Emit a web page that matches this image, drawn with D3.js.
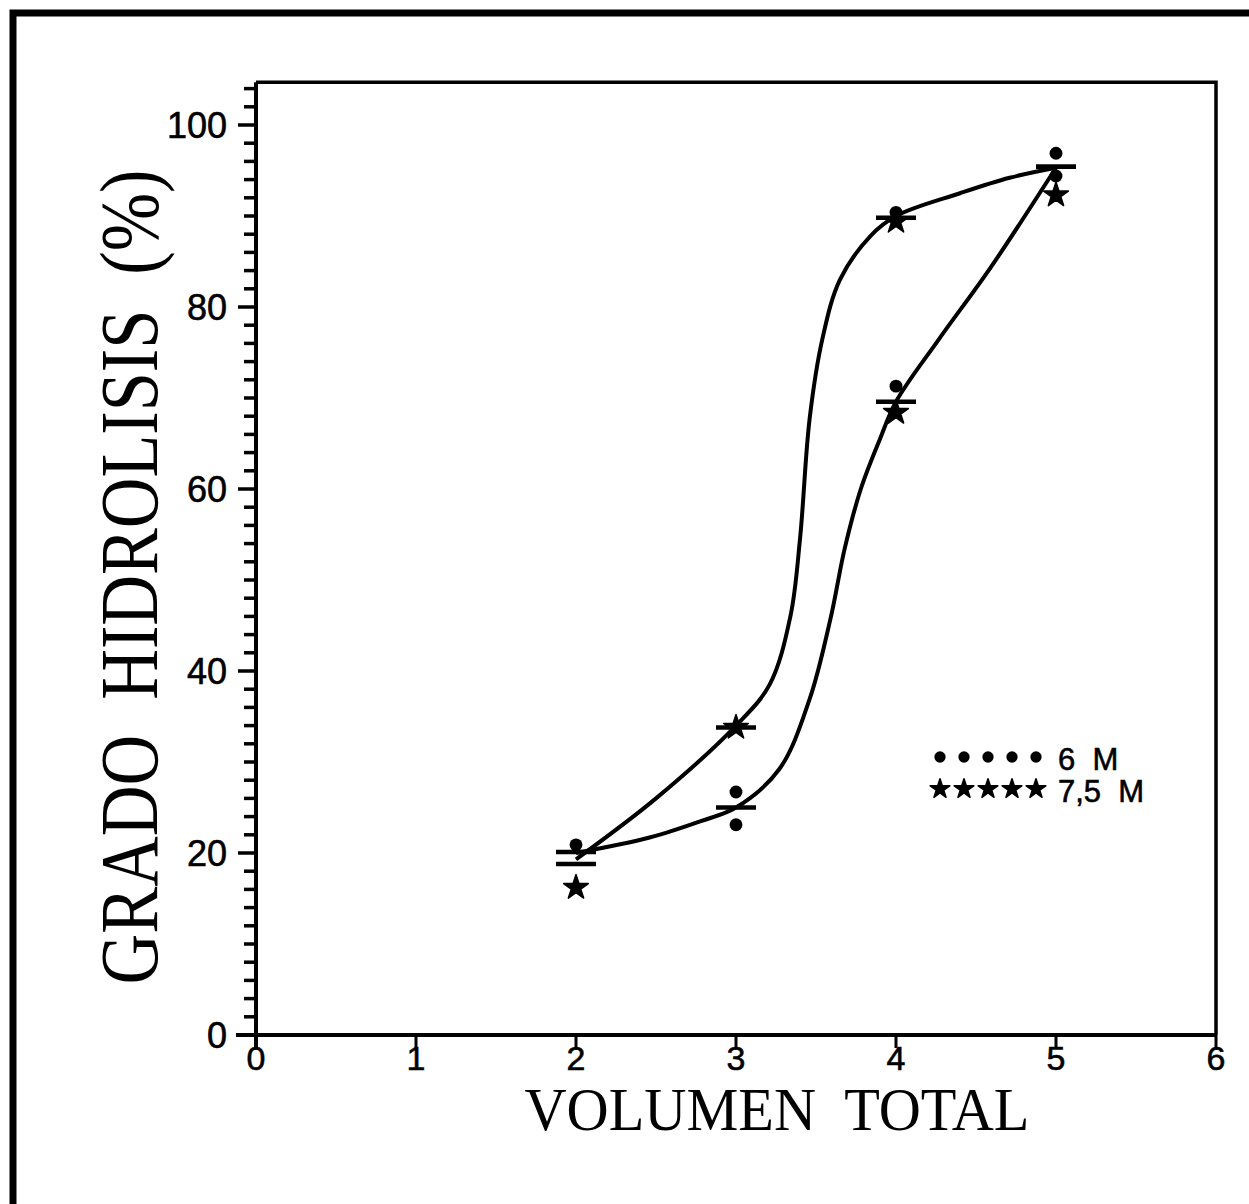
<!DOCTYPE html>
<html>
<head>
<meta charset="utf-8">
<script src="https://cdn.jsdelivr.net/npm/d3@7"></script>
<style>
  body { margin: 0; background: #fff; }
  svg { display: block; }
</style>
</head>
<body>
<svg id="grafico"></svg>
<script>
"use strict"

// valores
const xTicks = [0, 1, 2, 3, 4, 5, 6];
const yTicks = [0, 20, 40, 60, 80, 100];
const volumen = [2, 3, 4, 5];

// curvas ajustadas (puntos leidos sobre el trazo)
const curvaA = [
  [2, 19.3], [2.5, 26], [3, 34], [3.21, 38.5], [3.34, 46], [3.4, 54.5],
  [3.46, 67.7], [3.54, 76.5], [3.65, 83], [3.84, 87.8], [4, 90],
  [4.4, 92.5], [4.71, 94.2], [5, 95.3]
];
const curvaB = [
  [2, 20], [2.46, 21.7], [2.78, 23.5], [3, 25], [3.27, 29.2], [3.46, 36.9],
  [3.59, 45.7], [3.68, 53.5], [3.78, 60], [3.9, 65.5], [4, 69.6], [4.27, 76.5],
  [4.59, 84.3], [5, 95.3]
];

// medias (barras horizontales)
const mediaA = [18.8, 33.8, 89.8, 95.4];
const mediaB = [20.1, 25, 69.6, 95.4];

// puntos individuales
const puntos6M = [[2, 20.9], [3, 26.7], [3, 23.1], [4, 90.4], [4, 71.3], [5, 96.9], [5, 94.4]];
const puntos75M = [[2, 16.2], [3, 33.8], [4, 89.4], [4, 68.4], [5, 92.3]];

const leyenda = ['6  M', '7,5  M'];

function iniciar() {
  const ancho = 1249, alto = 1204;
  const svg = d3.select('#grafico').attr('width', ancho).attr('height', alto);

  const x = d3.scaleLinear().domain([0, 6]).range([256, 1216]);
  const y = d3.scaleLinear().domain([0, 100]).range([1035, 125]);

  // marco exterior
  svg.append('path')
    .attr('d', `M13,${alto} L13,13 L${ancho},13`)
    .attr('fill', 'none').attr('stroke', '#000').attr('stroke-width', 7);

  // marco del grafico
  svg.append('path')
    .attr('d', `M${x(0)},${y(104.7)} L${x(6)},${y(104.7)} L${x(6)},${y(0)}`)
    .attr('fill', 'none').attr('stroke', '#000').attr('stroke-width', 3.5);

  // eje x
  svg.append('line')
    .attr('x1', 236).attr('x2', x(6)).attr('y1', y(0)).attr('y2', y(0))
    .attr('stroke', '#000').attr('stroke-width', 4);
  svg.selectAll('.tx').data(xTicks).enter().append('line')
    .attr('x1', d => x(d)).attr('x2', d => x(d))
    .attr('y1', y(0)).attr('y2', y(0) + 13)
    .attr('stroke', '#000').attr('stroke-width', 3);
  svg.selectAll('.lx').data(xTicks).enter().append('text')
    .attr('x', d => x(d)).attr('y', y(0) + 35)
    .attr('text-anchor', 'middle')
    .attr('font-family', 'Liberation Sans, Arial, sans-serif')
    .attr('font-size', 34)
    .attr('stroke', '#000').attr('stroke-width', 0.6)
    .text(d => d);

  // eje y
  svg.append('line')
    .attr('x1', x(0)).attr('x2', x(0)).attr('y1', y(104.7)).attr('y2', y(0) + 13)
    .attr('stroke', '#000').attr('stroke-width', 4);
  const menores = d3.range(0, 105, 2);
  svg.selectAll('.ty').data(menores).enter().append('line')
    .attr('x1', d => x(0) - (d % 20 === 0 ? 18 : 12)).attr('x2', x(0))
    .attr('y1', d => y(d)).attr('y2', d => y(d))
    .attr('stroke', '#000').attr('stroke-width', 3.5);
  svg.selectAll('.ly').data(yTicks).enter().append('text')
    .attr('x', 227).attr('y', d => y(d) + 13)
    .attr('text-anchor', 'end')
    .attr('font-family', 'Liberation Sans, Arial, sans-serif')
    .attr('font-size', 36)
    .attr('stroke', '#000').attr('stroke-width', 0.6)
    .text(d => d);

  // titulos
  svg.append('text')
    .attr('x', 777).attr('y', 1130)
    .attr('text-anchor', 'middle')
    .attr('font-family', 'Liberation Serif, Times New Roman, serif')
    .attr('font-size', 62)
    .attr('textLength', 505).attr('lengthAdjust', 'spacingAndGlyphs')
    .style('white-space', 'pre')
    .text('VOLUMEN  TOTAL');
  svg.append('text')
    .attr('transform', 'translate(157,577) rotate(-90)')
    .attr('text-anchor', 'middle')
    .attr('font-family', 'Liberation Serif, Times New Roman, serif')
    .attr('font-size', 82)
    .attr('textLength', 815).attr('lengthAdjust', 'spacingAndGlyphs')
    .style('white-space', 'pre')
    .text('GRADO  HIDROLISIS  (%)');

  // curvas
  const linea = d3.line().x(d => x(d[0])).y(d => y(d[1])).curve(d3.curveCatmullRom.alpha(0.5));
  [curvaA, curvaB].forEach(c => {
    svg.append('path').attr('d', linea(c))
      .attr('fill', 'none').attr('stroke', '#000').attr('stroke-width', 4);
  });

  // barras de media
  [mediaA, mediaB].forEach(m => {
    svg.selectAll(null).data(volumen).enter().append('line')
      .attr('x1', d => x(d) - 20).attr('x2', d => x(d) + 20)
      .attr('y1', (d, i) => y(m[i])).attr('y2', (d, i) => y(m[i]))
      .attr('stroke', '#000').attr('stroke-width', 4.5);
  });

  const punto = d3.symbol().type(d3.symbolCircle).size(130);
  const estrella = d3.symbol().type(d3.symbolStar).size(190);

  svg.selectAll('.p6').data(puntos6M).enter().append('path')
    .attr('d', punto)
    .attr('transform', d => `translate(${x(d[0])},${y(d[1])})`)
    .attr('fill', '#000');
  svg.selectAll('.p75').data(puntos75M).enter().append('path')
    .attr('d', estrella)
    .attr('transform', d => `translate(${x(d[0])},${y(d[1])})`)
    .attr('fill', '#000').attr('stroke', '#000').attr('stroke-width', 1.5)
    .attr('stroke-linejoin', 'round');

  // leyenda
  const marcas = [0, 1, 2, 3, 4];
  const puntoLey = d3.symbol().type(d3.symbolCircle).size(100);
  const estrellaLey = d3.symbol().type(d3.symbolStar).size(120);
  const ley = svg.append('g');
  [puntoLey, estrellaLey].forEach((s, j) => {
    ley.selectAll(null).data(marcas).enter().append('path')
      .attr('d', s)
      .attr('transform', d => `translate(${940 + d * 24},${757 + j * 32})`)
      .attr('fill', '#000').attr('stroke', '#000').attr('stroke-width', j ? 1.5 : 0)
      .attr('stroke-linejoin', 'round');
  });
  ley.selectAll('text').data(leyenda).enter().append('text')
    .attr('x', 1058).attr('y', (d, i) => 770 + i * 32)
    .attr('font-family', 'Liberation Sans, Arial, sans-serif')
    .attr('font-size', 31)
    .attr('stroke', '#000').attr('stroke-width', 0.6)
    .style('white-space', 'pre')
    .text(d => d);
}

window.addEventListener('load', iniciar, false);
</script>
</body>
</html>
